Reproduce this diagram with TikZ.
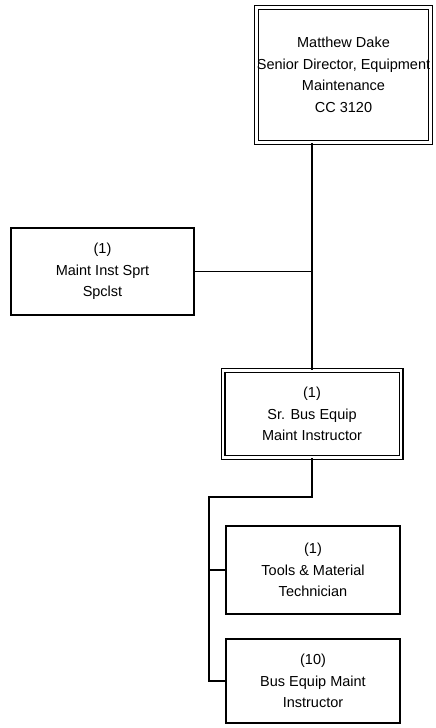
\documentclass[tikz,border=0pt]{standalone}
\usepackage{fontspec}
\setmainfont{Liberation Sans}
\begin{document}
\begin{tikzpicture}[x=1pt,y=-1pt,
  box/.style={draw, line width=1.6pt, align=center, inner sep=0pt,
    font=\fontsize{14.5}{21.5}\selectfont},
  dbox/.style={box, double, double distance=2.6pt, line width=1.2pt},
  conn/.style={line width=1.6pt}]
\useasboundingbox (0,0) rectangle (436,728);
\node[dbox, minimum width=174pt, minimum height=135pt] (top) at (343.5,75)
  {Matthew Dake\\Senior Director, Equipment\\Maintenance\\CC 3120};
\node[box, minimum width=183pt, minimum height=87pt] (left) at (102.5,271.5)
  {(1)\\Maint Inst Sprt\\Spclst};
\node[dbox, minimum width=178pt, minimum height=87pt] (mid) at (312,414)
  {(1)\\Sr. Bus Equip\\Maint Instructor};
\node[box, minimum width=174pt, minimum height=88pt] (tools) at (313,570)
  {(1)\\Tools \& Material\\Technician};
\node[box, minimum width=174pt, minimum height=84pt] (bus) at (313,681)
  {(10)\\Bus Equip Maint\\Instructor};
\coordinate (b1) at (209,497);
\draw[conn] (mid.north) -- (mid.north |- top.south);
\draw[conn] (left.east) -- (left.east -| mid.north);
\draw[conn] (mid.south) |- (b1) -- (b1 |- bus.west) -- (bus.west);
\draw[conn] (b1 |- tools.west) -- (tools.west);
\end{tikzpicture}
\end{document}
